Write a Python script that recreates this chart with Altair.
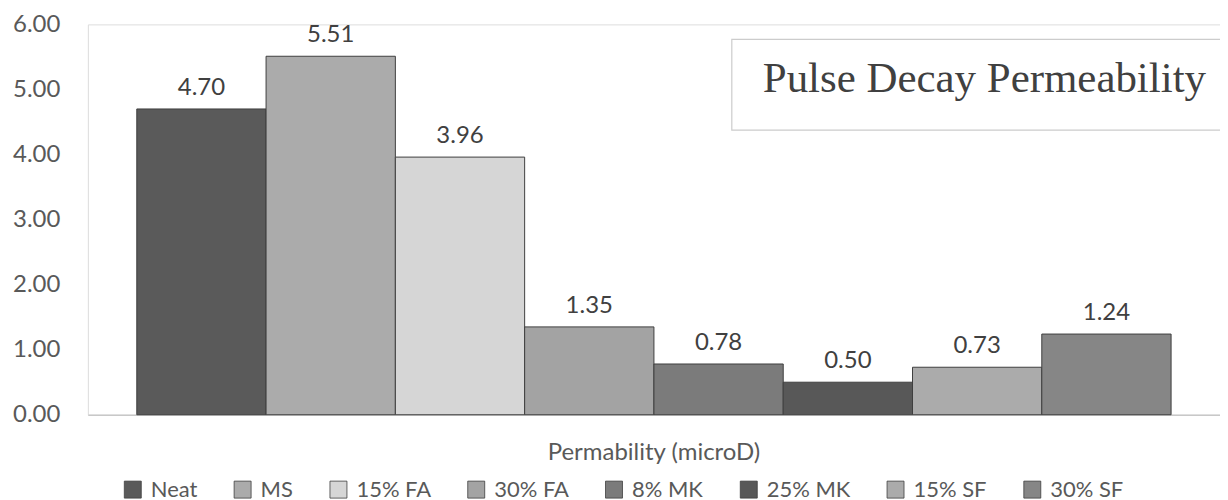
import altair as alt
import pandas as pd

series = ["Neat", "MS", "15% FA", "30% FA", "8% MK", "25% MK", "15% SF", "30% SF"]
values = [4.70, 5.51, 3.96, 1.35, 0.78, 0.50, 0.73, 1.24]
colors = ["#5a5a5a", "#ababab", "#d6d6d6", "#a3a3a3", "#7b7b7b", "#585858", "#ababab", "#868686"]
category = "Permability (microD)"
y_ticks = [0, 1, 2, 3, 4, 5, 6]
title_text = "Pulse Decay Permeability"

df = pd.DataFrame({"cat": [category] * len(series), "series": series, "value": values})

FONT = "Lato"
FS = 24
W, H = 1134, 391
PAD_OUT = 0.0473

x_scale = alt.Scale(paddingOuter=PAD_OUT, paddingInner=0)
x_enc = alt.X("cat:N", title=None, scale=x_scale,
              axis=alt.Axis(labelAngle=0, labelFontSize=FS, labelColor="#595959", labelFont=FONT,
                            labelPadding=26, labelLimit=0, ticks=False,
                            domainColor="#c8c8c8", domainWidth=1.5))
xo_enc = alt.XOffset("series:N", sort=series, scale=alt.Scale(paddingInner=0, paddingOuter=0))
y_enc = alt.Y("value:Q", title=None,
              scale=alt.Scale(domain=[0, 6], nice=False),
              axis=alt.Axis(values=y_ticks, format=".2f", domain=False, ticks=False, grid=False,
                            labelFontSize=FS, labelColor="#595959", labelFont=FONT, labelPadding=28))

bars = alt.Chart(df).mark_bar(stroke="#3f3f3f", strokeWidth=1).encode(
    x=x_enc, xOffset=xo_enc, y=y_enc,
    color=alt.Color("series:N", sort=series, scale=alt.Scale(domain=series, range=colors),
                    legend=alt.Legend(title=None, orient="none", direction="horizontal",
                                      legendX=34, legendY=H + 64, symbolType="square",
                                      symbolSize=289, symbolStrokeColor="#3f3f3f", symbolStrokeWidth=0.8,
                                      labelFontSize=22, labelColor="#595959", labelFont=FONT,
                                      columnPadding=34, labelOffset=7, columns=8))
)

labels = alt.Chart(df).mark_text(baseline="alphabetic", dy=-14, fontSize=FS, color="#404040", font=FONT).encode(
    x=alt.X("cat:N", scale=x_scale),
    xOffset=xo_enc,
    y=alt.Y("value:Q"),
    text=alt.Text("value:Q", format=".2f"),
)

box = alt.Chart(pd.DataFrame({"t": [title_text]})).mark_rect(fill="white", stroke="#cccccc", strokeWidth=1.2).encode(
    x=alt.value(645), x2=alt.value(1160), y=alt.value(15), y2=alt.value(106)
)
title = alt.Chart(pd.DataFrame({"t": [title_text]})).mark_text(
    font="Liberation Serif", fontSize=43, color="#404040", align="center", baseline="alphabetic"
).encode(x=alt.value(898), y=alt.value(68), text="t:N")

chart = alt.layer(bars, labels, box, title).properties(
    width=W, height=H,
    autosize=alt.AutoSizeParams(type="none"),
    padding={"left": 80, "top": 16, "right": 0, "bottom": 86},
).configure_view(stroke=None).configure(background="white")

chart.save("out.html", embed_options={"renderer": "svg", "actions": False})
